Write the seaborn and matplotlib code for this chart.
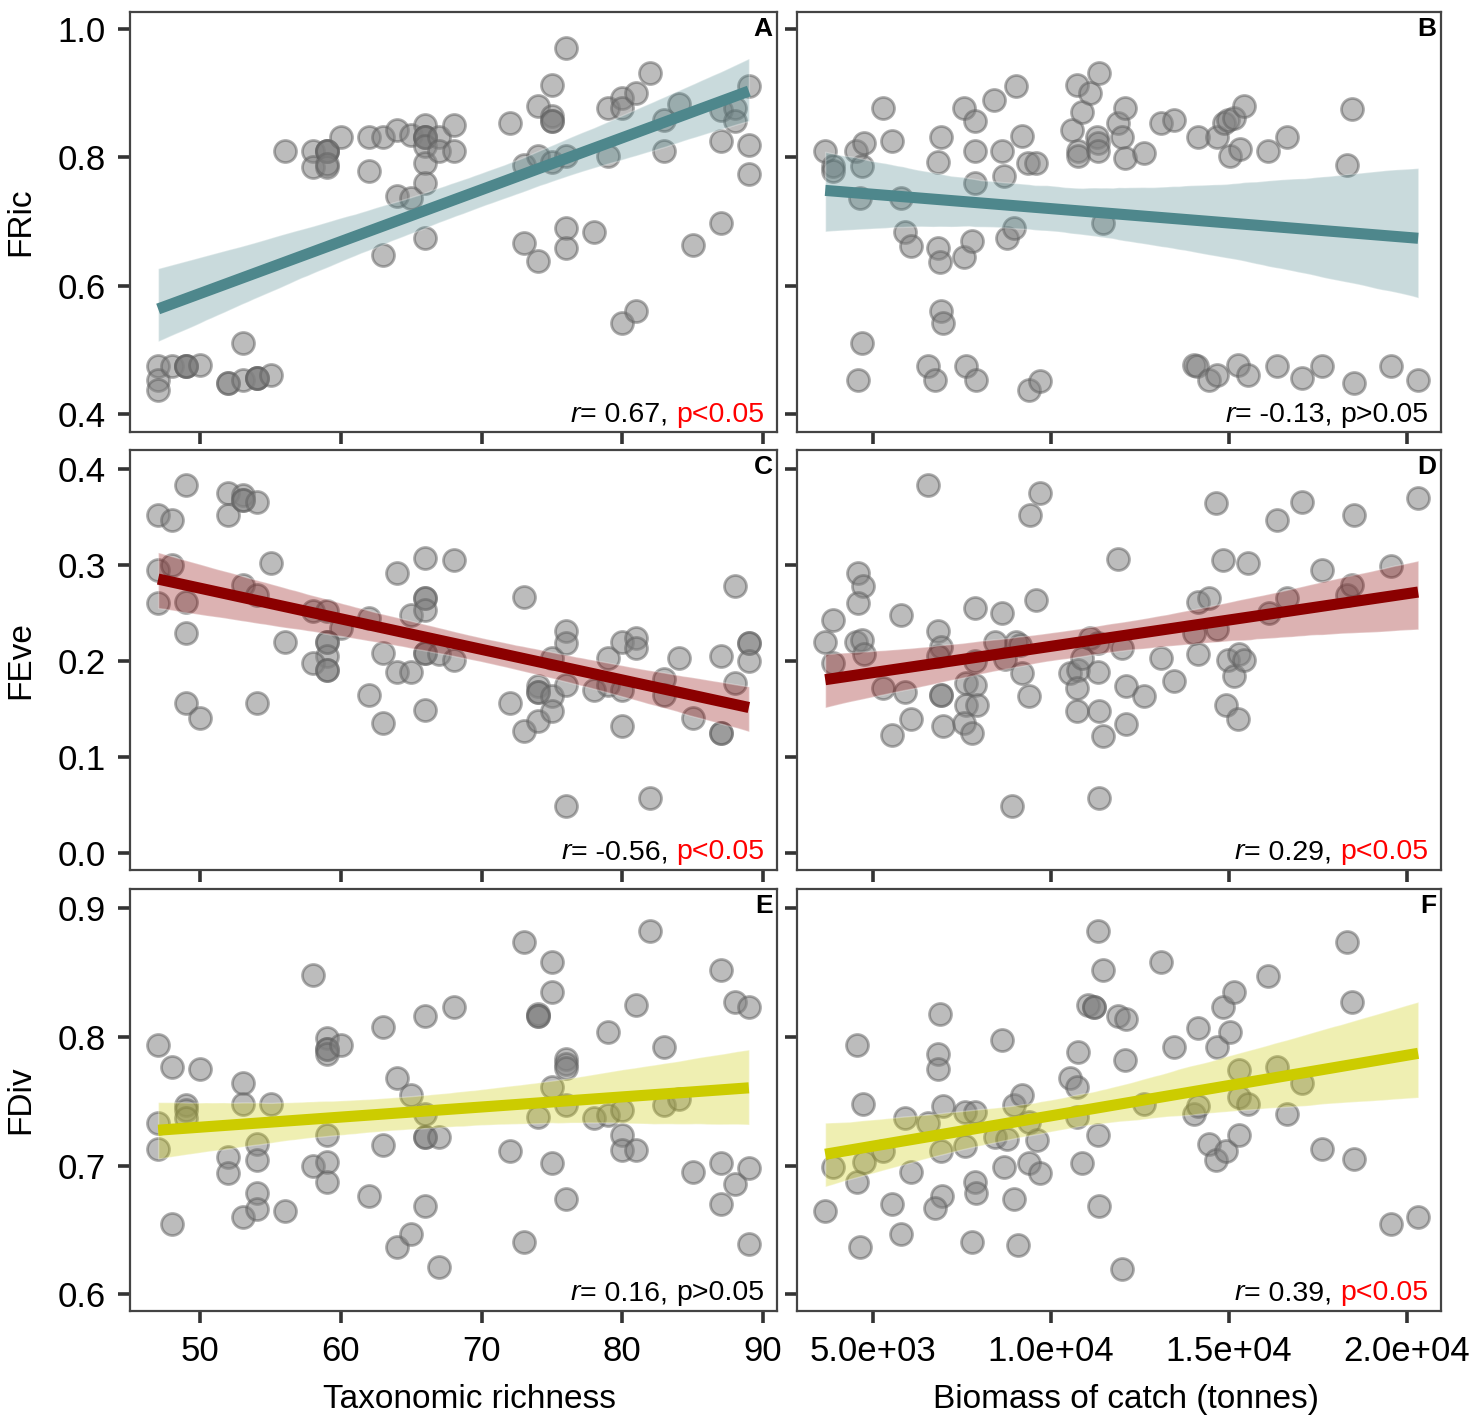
import numpy as np
import pandas as pd
import matplotlib
matplotlib.use("Agg")
import matplotlib.pyplot as plt
from matplotlib.collections import PolyCollection
import seaborn as sns

sns.set_style("ticks")
plt.rcParams['font.family'] = ['Liberation Sans', 'DejaVu Sans']

# ---------------- data ----------------
# Panel A: taxonomic richness vs FRic
a_rich = [47, 47, 47, 48, 49, 49, 49, 50, 53, 52, 52, 53, 54, 54, 54, 55,
          56, 58, 58, 59, 59, 59, 59, 59, 60, 62, 62, 63, 64, 65, 66, 66, 66, 66,
          66, 66, 66, 67, 67, 68, 68, 64, 65, 66, 63,
          72, 73, 74, 74, 75, 75, 75, 75, 75, 76, 76, 76, 76, 73, 74, 78, 79, 79,
          80, 80, 81, 80, 81, 82, 83, 83, 84, 85, 87, 87, 87, 88, 88, 89, 89, 89]
a_fric = [0.474, 0.453, 0.438, 0.474, 0.474, 0.474, 0.474, 0.477, 0.510, 0.448, 0.448,
          0.453, 0.456, 0.456, 0.456, 0.461,
          0.809, 0.809, 0.785, 0.809, 0.809, 0.809, 0.785, 0.790, 0.832, 0.832, 0.778,
          0.832, 0.843, 0.835, 0.850, 0.832, 0.832, 0.832, 0.817, 0.791, 0.760, 0.832,
          0.809, 0.850, 0.809, 0.739, 0.736, 0.674, 0.648,
          0.853, 0.788, 0.879, 0.801, 0.913, 0.864, 0.856, 0.856, 0.793, 0.970, 0.801,
          0.689, 0.658, 0.666, 0.638, 0.684, 0.876, 0.801, 0.892, 0.876, 0.900, 0.541,
          0.560, 0.931, 0.858, 0.809, 0.882, 0.663, 0.874, 0.825, 0.697, 0.876, 0.856,
          0.910, 0.819, 0.773]

# Panel B: biomass of catch vs FRic
b_biomass = [3657, 3867, 3867, 4509, 4743, 4685, 4626, 5269, 5526, 5794, 5911, 6063,
             6822, 6869, 6904, 6822, 6904, 6963, 4685, 4568, 6553, 6729, 7546, 7862,
             7862, 7862, 7546, 7780, 7605, 7897, 8399, 8621, 8680, 8773, 8948, 9006,
             9181, 9357, 9590, 9380, 9684, 10583, 10735, 10758, 10758, 10875, 11109,
             11343, 11284, 11319, 11319, 11460, 11868, 11985, 12067, 12067, 12604,
             13094, 13445, 14122, 14005, 14087, 14438, 14671, 14671, 14846, 14963,
             15138, 15430, 15021, 15313, 15255, 15547, 16108, 16621, 16342, 17042,
             17626, 18467, 18327, 18525, 19542, 20313]
b_fric = [0.809, 0.786, 0.778, 0.809, 0.822, 0.786, 0.736, 0.876, 0.825, 0.736, 0.684,
          0.661, 0.658, 0.636, 0.832, 0.793, 0.560, 0.542, 0.510, 0.453, 0.474, 0.453,
          0.876, 0.856, 0.809, 0.760, 0.645, 0.669, 0.474, 0.453, 0.889, 0.809, 0.770,
          0.674, 0.690, 0.910, 0.833, 0.791, 0.791, 0.438, 0.451, 0.843, 0.913, 0.809,
          0.801, 0.871, 0.900, 0.931, 0.832, 0.822, 0.809, 0.697, 0.853, 0.832, 0.876,
          0.798, 0.806, 0.853, 0.858, 0.832, 0.477, 0.474, 0.453, 0.461, 0.832, 0.853,
          0.858, 0.861, 0.879, 0.801, 0.812, 0.477, 0.461, 0.809, 0.832, 0.474, 0.456,
          0.474, 0.875, 0.788, 0.448, 0.474, 0.453]

# Panel C: taxonomic richness vs FEve
c_rich = [47, 48, 49, 52, 52, 53, 53, 53, 54, 47, 48, 47, 49, 49, 49, 50, 53, 54, 54,
          55, 56, 58, 59, 60, 59, 59, 59, 58, 59, 59, 62, 62, 63, 63, 64, 64, 65, 65,
          66, 66, 66, 66, 66, 66, 66, 67, 68, 68, 73, 72, 73, 74, 74, 74, 74, 75, 75,
          75, 76, 76, 76, 76, 78, 79, 79, 80, 80, 80, 81, 81, 82, 83, 83, 84, 85, 87,
          87, 87, 88, 88, 89, 89, 89]
c_feve = [0.352, 0.347, 0.384, 0.375, 0.352, 0.373, 0.368, 0.368, 0.366, 0.295, 0.300,
          0.260, 0.262, 0.229, 0.156, 0.141, 0.279, 0.269, 0.156, 0.302, 0.220, 0.252,
          0.252, 0.234, 0.220, 0.220, 0.205, 0.198, 0.191, 0.191, 0.245, 0.165, 0.208,
          0.135, 0.292, 0.188, 0.188, 0.248, 0.307, 0.266, 0.266, 0.253, 0.208, 0.208,
          0.149, 0.207, 0.305, 0.201, 0.267, 0.156, 0.127, 0.137, 0.174, 0.168, 0.168,
          0.203, 0.163, 0.148, 0.231, 0.219, 0.175, 0.049, 0.170, 0.203, 0.175, 0.220,
          0.170, 0.132, 0.224, 0.213, 0.057, 0.181, 0.165, 0.203, 0.141, 0.205, 0.125,
          0.125, 0.278, 0.177, 0.219, 0.219, 0.200]

# Panel D: biomass of catch vs FEve
d_biomass = [3657, 3867, 3890, 4591, 4708, 4568, 4509, 4685, 4743, 5269, 5794, 5911,
             6063, 5526, 6553, 6822, 6904, 6822, 6904, 6904, 6963, 7605, 7862, 7605,
             7920, 7546, 7780, 7862, 7862, 8621, 8423, 8715, 9006, 9123, 9181, 9380,
             8913, 9415, 9684, 9590, 10525, 10758, 10875, 10735, 10735, 11109, 11319,
             11319, 11343, 11460, 11343, 11868, 11985, 12102, 12102, 12604, 13094,
             13445, 14005, 14122, 14438, 14122, 14671, 14636, 14823, 14963, 15138,
             15290, 15430, 14904, 15255, 15547, 16131, 16341, 16621, 17042, 17626,
             18327, 18467, 18525, 19542, 20313]
d_feve = [0.220, 0.243, 0.198, 0.292, 0.278, 0.260, 0.220, 0.222, 0.207, 0.172, 0.248,
          0.168, 0.139, 0.123, 0.384, 0.231, 0.215, 0.205, 0.165, 0.165, 0.132, 0.177,
          0.175, 0.154, 0.154, 0.135, 0.125, 0.200, 0.255, 0.250, 0.220, 0.202, 0.220,
          0.217, 0.187, 0.163, 0.049, 0.352, 0.375, 0.264, 0.187, 0.191, 0.203, 0.172,
          0.148, 0.224, 0.219, 0.189, 0.148, 0.122, 0.057, 0.306, 0.214, 0.174, 0.134,
          0.163, 0.203, 0.179, 0.229, 0.262, 0.266, 0.207, 0.233, 0.365, 0.305, 0.201,
          0.184, 0.207, 0.201, 0.154, 0.139, 0.302, 0.250, 0.347, 0.266, 0.366, 0.295,
          0.269, 0.279, 0.352, 0.299, 0.370]

# Panel E: taxonomic richness vs FDiv
e_rich = [47, 47, 47, 48, 48, 49, 49, 49, 50, 52, 52, 53, 53, 53, 54, 54, 54, 54, 55,
          56, 58, 58, 59, 59, 59, 59, 60, 59, 59, 59, 62, 63, 63, 64, 64, 65, 65, 66,
          66, 66, 66, 66, 67, 67, 68, 73, 73, 72, 74, 74, 74, 74, 75, 75, 75, 75, 76,
          76, 76, 76, 76, 78, 79, 79, 80, 80, 80, 81, 81, 82, 83, 83, 84, 85, 87, 87,
          87, 88, 88, 89, 89, 89]
e_fdiv = [0.794, 0.733, 0.713, 0.777, 0.655, 0.747, 0.743, 0.737, 0.775, 0.707, 0.694,
          0.764, 0.748, 0.660, 0.717, 0.704, 0.679, 0.666, 0.748, 0.665, 0.848, 0.700,
          0.799, 0.791, 0.791, 0.787, 0.794, 0.724, 0.703, 0.687, 0.676, 0.808, 0.716,
          0.768, 0.637, 0.755, 0.647, 0.816, 0.740, 0.722, 0.722, 0.669, 0.722, 0.621,
          0.823, 0.874, 0.641, 0.711, 0.818, 0.816, 0.816, 0.738, 0.858, 0.835, 0.761,
          0.702, 0.783, 0.779, 0.776, 0.747, 0.674, 0.737, 0.804, 0.739, 0.743, 0.724,
          0.712, 0.825, 0.712, 0.882, 0.792, 0.747, 0.752, 0.695, 0.852, 0.702, 0.670,
          0.827, 0.686, 0.823, 0.698, 0.639]

# Panel F: biomass of catch vs FDiv
f_biomass = [3657, 3890, 4544, 4544, 4708, 4743, 4626, 5269, 5526, 5794, 5911, 6063,
             6553, 6822, 6822, 6880, 6963, 6904, 6927, 6729, 7582, 7862, 7582, 7862,
             7897, 7780, 8423, 8621, 8680, 8773, 8948, 8948, 9181, 9380, 9380, 9613,
             9684, 9065, 10525, 10735, 10735, 10758, 10875, 11050, 11202, 11202, 11319,
             11319, 11460, 11343, 11868, 12102, 12067, 11985, 12604, 13094, 13445,
             14005, 14122, 14122, 14438, 14636, 14671, 14823, 14904, 15021, 15138,
             15290, 15290, 15547, 15290, 16108, 16342, 16621, 17042, 17626, 18327,
             18467, 18525, 19542, 20313]
f_fdiv = [0.665, 0.699, 0.794, 0.687, 0.748, 0.703, 0.637, 0.711, 0.670, 0.647, 0.737,
          0.695, 0.733, 0.787, 0.775, 0.818, 0.746, 0.711, 0.676, 0.667, 0.742, 0.742,
          0.715, 0.687, 0.679, 0.641, 0.722, 0.798, 0.699, 0.721, 0.747, 0.674, 0.755,
          0.734, 0.702, 0.720, 0.694, 0.638, 0.768, 0.761, 0.738, 0.788, 0.702, 0.825,
          0.823, 0.823, 0.724, 0.882, 0.852, 0.669, 0.816, 0.814, 0.782, 0.620, 0.748,
          0.858, 0.792, 0.740, 0.746, 0.807, 0.717, 0.704, 0.792, 0.823, 0.711, 0.804,
          0.835, 0.774, 0.753, 0.748, 0.724, 0.847, 0.777, 0.740, 0.764, 0.713, 0.874,
          0.827, 0.705, 0.655, 0.660]

panel_letters = ["A", "B", "C", "D", "E", "F"]
r_texts = ["0.67", "-0.13", "-0.56", "0.29", "0.16", "0.39"]
p_texts = ["p<0.05", "p>0.05", "p<0.05", "p<0.05", "p>0.05", "p<0.05"]
row_labels = ["FRic", "FEve", "FDiv"]
col_labels = ["Taxonomic richness", "Biomass of catch (tonnes)"]
rich_ticks = [50, 60, 70, 80, 90]
bio_ticks = [5000, 10000, 15000, 20000]
bio_ticklabels = ["5.0e+03", "1.0e+04", "1.5e+04", "2.0e+04"]
row_yticks = [[0.4, 0.6, 0.8, 1.0], [0.0, 0.1, 0.2, 0.3, 0.4], [0.6, 0.7, 0.8, 0.9]]
row_ylims = [(0.372, 1.026), (-0.018, 0.42), (0.587, 0.915)]
line_colors = ["#4E878C", "#8B0000", "#CCCC00"]

panels = [
    (a_rich, a_fric), (b_biomass, b_fric),
    (c_rich, c_feve), (d_biomass, d_feve),
    (e_rich, e_fdiv), (f_biomass, f_fdiv),
]

# ---------------- figure ----------------
W, H = 1476, 1419
fig = plt.figure(figsize=(W / 100, H / 100), dpi=100)
col_px = [(130, 777), (797, 1441)]
row_px = [(12, 432), (450, 870), (889, 1311)]
xlabel_x = [0.525, 0.511]
spine_col = "#444444"
tick_col = "#333333"

for i, (xv, yv) in enumerate(panels):
    r, c = divmod(i, 2)
    x0, x1 = col_px[c]
    y0, y1 = row_px[r]
    ax = fig.add_axes([x0 / W, 1 - y1 / H, (x1 - x0) / W, (y1 - y0) / H])
    df = pd.DataFrame({"x": xv, "y": yv})
    sns.regplot(data=df, x="x", y="y", ax=ax, ci=95, seed=1, n_boot=2000,
                scatter_kws=dict(s=250, color="#808080", alpha=0.52,
                                 edgecolors="#606060", linewidths=2.0, zorder=2),
                line_kws=dict(color=line_colors[r], lw=8, solid_capstyle="butt", zorder=4))
    for coll in ax.collections:
        if isinstance(coll, PolyCollection):
            coll.set_alpha(0.3)
            coll.set_zorder(3)
    if c == 0:
        ax.set_xlim(45.0, 91.0)
        ax.set_xticks(rich_ticks)
    else:
        ax.set_xlim(2865, 20955)
        ax.set_xticks(bio_ticks)
        ax.set_xticklabels(bio_ticklabels)
    ax.set_ylim(*row_ylims[r])
    ax.set_yticks(row_yticks[r])
    ax.set_yticklabels([f"{t:.1f}" for t in row_yticks[r]])
    ax.tick_params(axis="both", labelsize=25, length=8.5, width=2.6, color=tick_col,
                   labelcolor="black", direction="out")
    ax.tick_params(axis="x", pad=9)
    ax.tick_params(axis="y", pad=9)
    if c == 1:
        ax.tick_params(axis="y", labelleft=False)
        ax.set_ylabel("")
    else:
        ax.set_ylabel(row_labels[r], fontsize=24, labelpad=15, color="black")
    if r < 2:
        ax.tick_params(axis="x", labelbottom=False)
        ax.set_xlabel("")
    else:
        ax.set_xlabel(col_labels[c], fontsize=24, labelpad=11, color="black")
        ax.xaxis.label.set_x(xlabel_x[c])
    for sp in ax.spines.values():
        sp.set_visible(True)
        sp.set_color(spine_col)
        sp.set_linewidth(1.6)

    # panel letter
    ax.text(0.993, 0.988, panel_letters[i], transform=ax.transAxes, ha="right",
            va="top", fontsize=19, fontweight="bold", color="black")
    # r / p annotation, chained right to left
    pcol = "red" if "<" in p_texts[i] else "black"
    t_p = ax.text(0.98, 0.025, p_texts[i], transform=ax.transAxes, ha="right",
                  va="baseline", fontsize=20.5, color=pcol)
    t_r = ax.annotate(f"= {r_texts[i]}, ", xy=(0, 0), xycoords=t_p, ha="right",
                      va="bottom", fontsize=20.5, color="black")
    ax.annotate("r", xy=(0, 0), xycoords=t_r, ha="right", va="bottom",
                fontsize=20.5, color="black", fontstyle="italic")

fig.savefig("out.png", dpi=100)
